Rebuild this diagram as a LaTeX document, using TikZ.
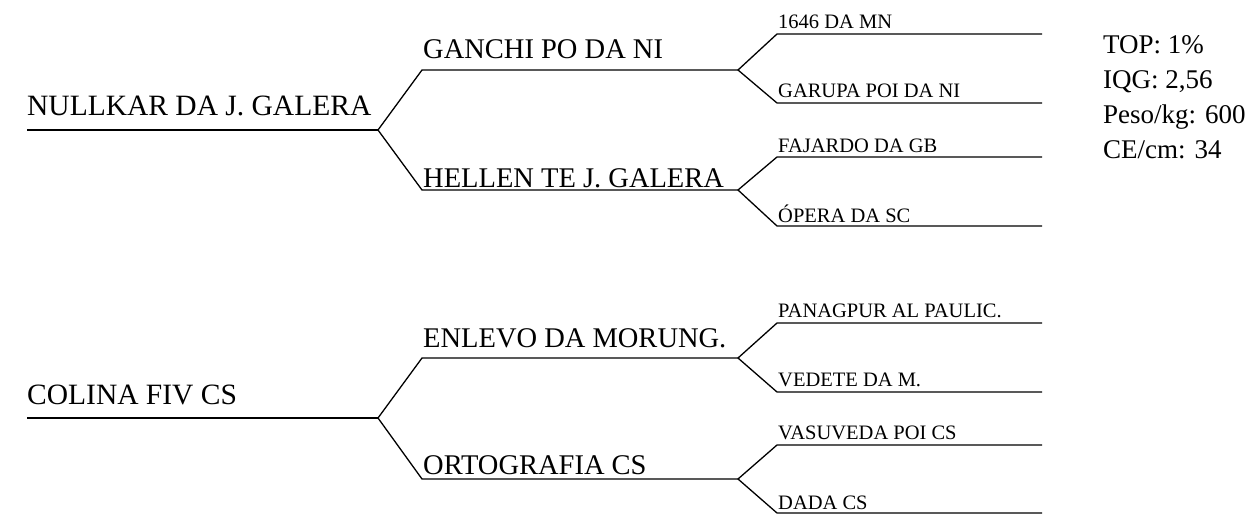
\documentclass[tikz,border=0pt]{standalone}
\usepackage{fontspec}
\setmainfont{Liberation Serif}
\tikzset{
  ln/.style={line width=1.3pt, line join=round},
  bigtxt/.style={anchor=base west, inner sep=0pt, font=\fontsize{29.5}{35}\selectfont},
  midtxt/.style={anchor=base west, inner sep=0pt, font=\fontsize{28.5}{33}\selectfont},
  smltxt/.style={anchor=base west, inner sep=0pt, font=\fontsize{20.5}{24}\selectfont},
  infotxt/.style={anchor=base west, inner sep=0pt, font=\fontsize{27}{32}\selectfont},
}
\begin{document}
\begin{tikzpicture}[x=1pt,y=-1pt]
\useasboundingbox (0,0) rectangle (1252,516);
% ---------- top tree ----------
\coordinate (r1s) at (27,130);  \coordinate (r1f) at (378,130);
\coordinate (a1s) at (422,70);  \coordinate (a1f) at (738,70);
\coordinate (a2s) at (422,190); \coordinate (a2f) at (738,190);
\coordinate (l1s) at (777,34);  \coordinate (l1e) at (1042,34);
\coordinate (l2s) at (777,103); \coordinate (l2e) at (1042,103);
\coordinate (l3s) at (777,157); \coordinate (l3e) at (1042,157);
\coordinate (l4s) at (777,226); \coordinate (l4e) at (1042,226);
% ---------- bottom tree ----------
\coordinate (r2s) at (27,418);  \coordinate (r2f) at (378,418);
\coordinate (b1s) at (422,358); \coordinate (b1f) at (738,358);
\coordinate (b2s) at (422,479); \coordinate (b2f) at (738,479);
\coordinate (m1s) at (777,323); \coordinate (m1e) at (1042,323);
\coordinate (m2s) at (777,392); \coordinate (m2e) at (1042,392);
\coordinate (m3s) at (777,445); \coordinate (m3e) at (1042,445);
\coordinate (m4s) at (777,513); \coordinate (m4e) at (1042,513);

% lines
\draw[ln] (r1s) -- (r1f);
\draw[ln] (a1f) -- (a1s) -- (r1f) -- (a2s) -- (a2f);
\draw[ln] (l1e) -- (l1s) -- (a1f) -- (l2s) -- (l2e);
\draw[ln] (l3e) -- (l3s) -- (a2f) -- (l4s) -- (l4e);
\draw[ln] (r2s) -- (r2f);
\draw[ln] (b1f) -- (b1s) -- (r2f) -- (b2s) -- (b2f);
\draw[ln] (m1e) -- (m1s) -- (b1f) -- (m2s) -- (m2e);
\draw[ln] (m3e) -- (m3s) -- (b2f) -- (m4s) -- (m4e);

% texts
\node[bigtxt] (t1) at (27,116) {NULLKAR DA J. GALERA};
\node[midtxt] (ta1) at (423,59) {GANCHI PO DA NI};
\node[midtxt] (ta2) at (423,187) {HELLEN TE J. GALERA};
\node[smltxt] (tl1) at (778,29) {1646 DA MN};
\node[smltxt] (tl2) at (778,98) {GARUPA POI DA NI};
\node[smltxt] (tl3) at (778,152) {FAJARDO DA GB};
\node[smltxt] (tl4) at (778,222) {ÓPERA DA SC};

\node[bigtxt] (t2) at (27,404) {COLINA FIV CS};
\node[midtxt] (tb1) at (423,347) {ENLEVO DA MORUNG.};
\node[midtxt] (tb2) at (423,474) {ORTOGRAFIA CS};
\node[smltxt] (tm1) at (778,317) {PANAGPUR AL PAULIC.};
\node[smltxt] (tm2) at (778,386) {VEDETE DA M.};
\node[smltxt] (tm3) at (778,439) {VASUVEDA POI CS};
\node[smltxt] (tm4) at (778,509) {DADA CS};

\node[infotxt] (i1) at (1103,54) {TOP: 1\%};
\node[infotxt] (i2) at (1103,88.5) {IQG: 2,56};
\node[infotxt] (i3) at (1103,123.5) {Peso/kg: 600};
\node[infotxt] (i4) at (1103,158) {CE/cm: 34};
\end{tikzpicture}
\end{document}
